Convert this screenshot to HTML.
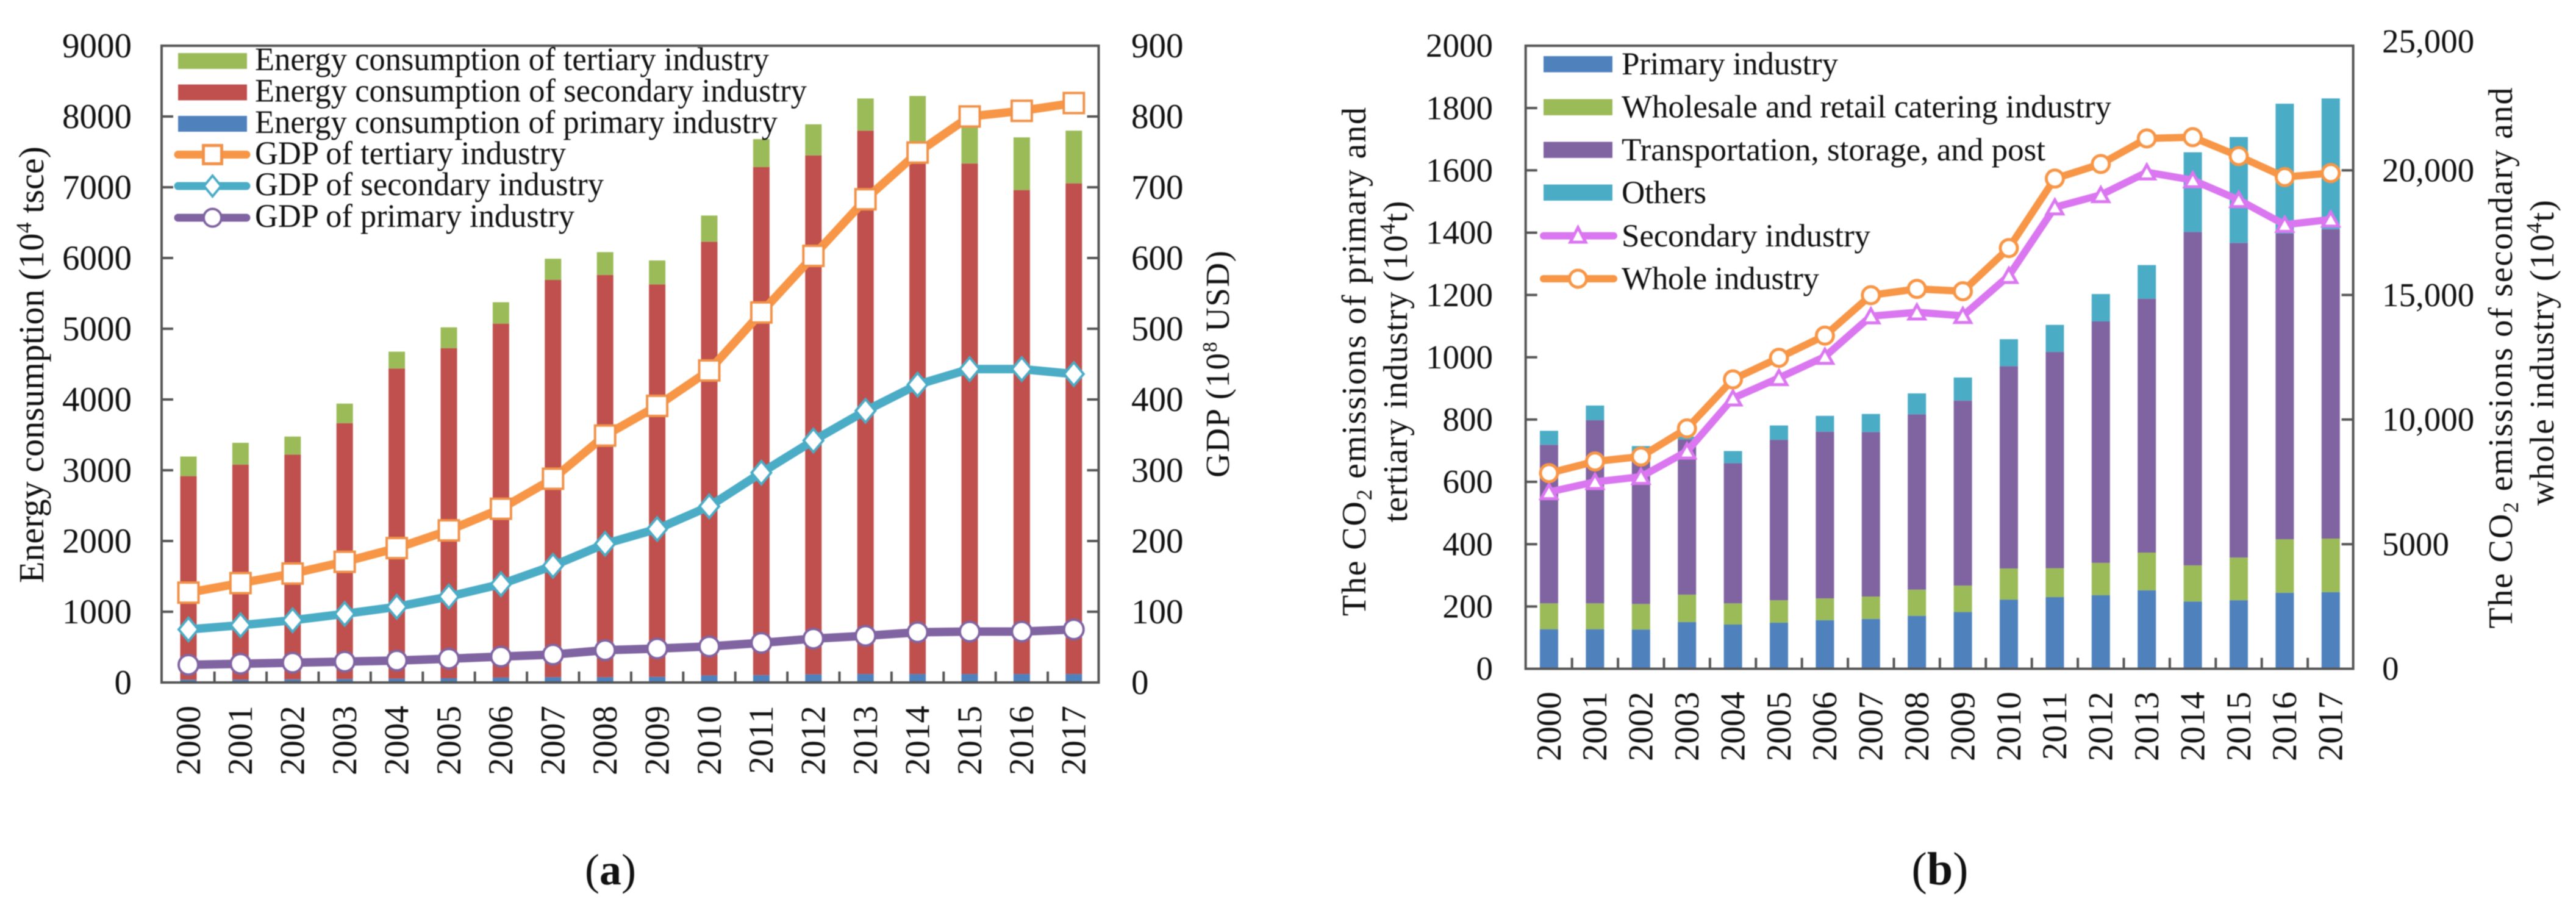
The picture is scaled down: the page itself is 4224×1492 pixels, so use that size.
<!DOCTYPE html>
<html lang="en">
<head>
<meta charset="utf-8">
<title>Energy consumption, GDP and CO2 emissions by industry</title>
<style>
html,body{margin:0;padding:0;background:#fff;}
svg{display:block;font-family:"Liberation Serif",serif;fill:#111;filter:blur(0.7px);}
</style>
</head>
<body>
<svg id="figure" xmlns="http://www.w3.org/2000/svg" width="4224" height="1492" viewBox="0 0 4224 1492">
  <rect x="0" y="0" width="4224" height="1492" fill="#fff"/>

  <g id="chartA"></g>
  <g id="chartB"></g>

  <!-- Chart A titles -->
  <text transform="translate(71,598) rotate(-90)" text-anchor="middle" font-size="58" textLength="716">Energy consumption (10<tspan font-size="36" dy="-20">4</tspan><tspan dy="20"> tsce)</tspan></text>
  <text transform="translate(2015,597) rotate(-90)" text-anchor="middle" font-size="55" textLength="372">GDP (10<tspan font-size="34" dy="-20">8</tspan><tspan dy="20"> USD)</tspan></text>

  <!-- Chart A legend -->
  <g>
    <g>
      <rect x="292" y="87" width="113" height="26" fill="#9BBB59"/>
      <text x="418" y="115" font-size="54" textLength="843" lengthAdjust="spacingAndGlyphs">Energy consumption of tertiary industry</text>
    </g>
    <g>
      <rect x="292" y="138.500" width="113" height="26" fill="#C0504D"/>
      <text x="418" y="166.500" font-size="54" textLength="905" lengthAdjust="spacingAndGlyphs">Energy consumption of secondary industry</text>
    </g>
    <g>
      <rect x="292" y="190" width="113" height="26" fill="#4F81BD"/>
      <text x="418" y="218" font-size="54" textLength="857" lengthAdjust="spacingAndGlyphs">Energy consumption of primary industry</text>
    </g>
    <g>
      <line x1="292" y1="253.500" x2="404" y2="253.500" stroke="#F79646" stroke-width="13" stroke-linecap="round"/>
      <rect x="333.500" y="238.500" width="30" height="30" fill="#fff" stroke="#F0924A" stroke-width="5"/>
      <text x="418" y="269" font-size="54" textLength="510" lengthAdjust="spacingAndGlyphs">GDP of tertiary industry</text>
    </g>
    <g>
      <line x1="292" y1="305" x2="404" y2="305" stroke="#4BACC6" stroke-width="13" stroke-linecap="round"/>
      <polygon points="348.500,288 362.500,305 348.500,322 334.500,305" fill="#fff" stroke="#4BACC6" stroke-width="4"/>
      <text x="418" y="320" font-size="54" textLength="572" lengthAdjust="spacingAndGlyphs">GDP of secondary industry</text>
    </g>
    <g>
      <line x1="292" y1="357" x2="404" y2="357" stroke="#8064A2" stroke-width="13" stroke-linecap="round"/>
      <circle cx="348.500" cy="357" r="14.500" fill="#fff" stroke="#8064A2" stroke-width="4"/>
      <text x="418" y="372" font-size="54" textLength="524" lengthAdjust="spacingAndGlyphs">GDP of primary industry</text>
    </g>
  </g>
  <text x="1001" y="1450" text-anchor="middle" font-size="72">(<tspan font-weight="bold">a</tspan>)</text>

  <!-- Chart B titles -->
  <text transform="translate(2239,593) rotate(-90)" text-anchor="middle" font-size="56" textLength="834">The CO<tspan font-size="36" dy="10">2</tspan><tspan dy="-10"> emissions of  primary and</tspan></text>
  <text transform="translate(2307,593) rotate(-90)" text-anchor="middle" font-size="56" textLength="527">tertiary industry (10<tspan font-size="36" dy="-20">4</tspan><tspan dy="20">t)</tspan></text>
  <text transform="translate(4119,587) rotate(-90)" text-anchor="middle" font-size="56" textLength="887">The CO<tspan font-size="36" dy="10">2</tspan><tspan dy="-10"> emissions of  secondary and</tspan></text>
  <text transform="translate(4187,578.500) rotate(-90)" text-anchor="middle" font-size="56" textLength="501">whole industry (10<tspan font-size="36" dy="-20">4</tspan><tspan dy="20">t)</tspan></text>

  <!-- Chart B legend -->
  <g>
    <g>
      <rect x="2531" y="92" width="113" height="26.500" fill="#4F81BD"/>
      <text x="2659" y="122" font-size="53" textLength="355">Primary industry</text>
    </g>
    <g>
      <rect x="2531" y="162.500" width="113" height="26.500" fill="#9BBB59"/>
      <text x="2659" y="192.500" font-size="53" textLength="803">Wholesale and retail catering industry</text>
    </g>
    <g>
      <rect x="2531" y="232.500" width="113" height="26.500" fill="#8064A2"/>
      <text x="2659" y="263" font-size="53" textLength="695">Transportation, storage, and post</text>
    </g>
    <g>
      <rect x="2531" y="302.500" width="113" height="26.500" fill="#4BACC6"/>
      <text x="2659" y="333" font-size="53" textLength="139">Others</text>
    </g>
    <g>
      <line x1="2531" y1="386.600" x2="2646" y2="386.600" stroke="#DA77F0" stroke-width="12" stroke-linecap="round"/>
      <polygon points="2587.500,373 2600,397 2575,397" fill="#fff" stroke="#DA77F0" stroke-width="5"/>
      <text x="2659" y="404" font-size="53" textLength="408">Secondary industry</text>
    </g>
    <g>
      <line x1="2531" y1="457" x2="2646" y2="457" stroke="#F79646" stroke-width="12" stroke-linecap="round"/>
      <circle cx="2587.500" cy="457" r="14" fill="#fff" stroke="#F79646" stroke-width="5"/>
      <text x="2659" y="474" font-size="53" textLength="324">Whole industry</text>
    </g>
  </g>
  <text x="3181" y="1450" text-anchor="middle" font-size="76">(<tspan font-weight="bold">b</tspan>)</text>
</svg>

<script>
// Shared categories
const years = ['2000','2001','2002','2003','2004','2005','2006','2007','2008','2009','2010','2011','2012','2013','2014','2015','2016','2017'];

// Chart A: energy consumption (10^4 tsce), stacked
const energyPrimary   = [40,40,45,50,55,60,70,75,75,80,100,105,115,120,120,120,120,120];
const energySecondary = [2877,3040,3177,3615,4383,4665,5002,5615,5685,5547,6130,7180,7335,7680,7330,7215,6840,6935];
const energyTertiary  = [277,308,254,277,238,295,303,300,323,338,370,395,440,455,840,665,745,745];
// Chart A: GDP (10^8 USD)
const gdpPrimary   = [25,26.5,28,29.5,31,33.6,36.6,39.5,45.7,48,51,56,62,66,71,72,72,75];
const gdpSecondary = [75,81,88,97,107,121.5,139,165,196,217,249,296.5,342,384,421,443,443,436];
const gdpTertiary  = [127,140.5,154,170.6,190,215,245.6,288,349,391,441,523,603,683,749,800,808,819];
// Chart A: tick labels
const energyTicks = [0,1000,2000,3000,4000,5000,6000,7000,8000,9000];
const gdpTicks    = [0,100,200,300,400,500,600,700,800,900];

// Chart B: CO2 emissions of primary and tertiary industry (10^4 t), stacked
const co2Primary   = [127,127,126,150,142,148,156,160,170,182,222,230,236,252,216,220,244,246];
const co2Wholesale = [83,83,82,88,68,72,70,72,84,85,100,93,104,121,116,137,172,172];
const co2Transport = [509,588,482,498,450,515,535,528,563,594,649,694,775,815,1070,1010,981,993];
const co2Others    = [45,47,25,9,39,46,51,58,67,74,87,87,88,108,256,340,417,420];
// Chart B: CO2 emissions of secondary and whole industry (10^4 t)
const co2Secondary = [7093,7500,7705,8725,10854,11672,12526,14150,14305,14165,15770,18520,19013,19925,19610,18815,17820,18030];
const co2Whole     = [7850,8318,8516,9645,11612,12479,13370,14990,15243,15150,16882,19670,20255,21280,21331,20570,19730,19890];
// Chart B: tick labels
const co2LeftTicks  = [0,200,400,600,800,1000,1200,1400,1600,1800,2000];
const co2RightTicks = [0,5000,10000,15000,20000,25000];
const co2RightLabels = ['0','5000','10,000','15,000','20,000','25,000'];

const NS = 'http://www.w3.org/2000/svg';
const AXIS = '#555555';

function add(parent, tag, attrs, text) {
  const el = document.createElementNS(NS, tag);
  for (const k in attrs) el.setAttribute(k, attrs[k]);
  if (text !== undefined) el.textContent = text;
  parent.appendChild(el);
  return el;
}

function drawFrame(g, o, prefix) {
  const el = add(g, 'rect', {x:o.left, y:o.top, width:o.right-o.left, height:o.bottom-o.top, fill:'none', stroke:AXIS, 'stroke-width':4});
  
  
}

function drawTicks(g, o, prefix) {
  const scaleL = v => o.bottom - v / o.leftMax * (o.bottom - o.top);
  const scaleR = v => o.bottom - v / o.rightMax * (o.bottom - o.top);
  o.leftTicks.forEach(function (v) {
    const y = scaleL(v);
    if (v > 0 && v < o.leftMax) {
      const t = add(g, 'line', {x1:o.left, x2:o.left+19, y1:y, y2:y, stroke:AXIS, 'stroke-width':4});
      
      
    }
    const l = add(g, 'text', {x:o.leftLabelX, y:y + 0.33*o.fs, 'text-anchor':'end', 'font-size':o.fs}, String(v));
    
    
  });
  o.rightTicks.forEach(function (v, i) {
    const y = scaleR(v);
    if (v > 0 && v < o.rightMax) {
      const t = add(g, 'line', {x1:o.right-19, x2:o.right, y1:y, y2:y, stroke:AXIS, 'stroke-width':4});
      
      
    }
    const l = add(g, 'text', {x:o.rightLabelX, y:y + 0.33*o.fs + (v === o.rightMax ? o.topShift : 0), 'text-anchor':'start', 'font-size':o.fs}, o.rightLabels[i]);
    
    
  });
  years.forEach(function (yr, i) {
    const c = o.x0 + i * o.step;
    if (i < years.length - 1) {
      const t = add(g, 'line', {x1:c+o.step/2, x2:c+o.step/2, y1:o.bottom-18, y2:o.bottom, stroke:AXIS, 'stroke-width':4});
      
      
    }
    const lx = c + 0.33 * o.xfs;
    const l = add(g, 'text', {x:lx, y:o.xLabelTop, 'text-anchor':'end', 'font-size':o.xfs, transform:'rotate(-90 ' + lx + ' ' + o.xLabelTop + ')'}, yr);
    
    
  });
}

function drawStack(g, o, prefix, stack) {
  const scale = v => o.bottom - v / o.leftMax * (o.bottom - o.top);
  years.forEach(function (yr, i) {
    let base = 0;
    stack.forEach(function (s) {
      const top = base + s.values[i];
      const r = add(g, 'rect', {x:o.x0 + i*o.step - o.barW/2, y:scale(top), width:o.barW, height:scale(base)-scale(top), fill:s.color});
      
      
      base = top;
    });
  });
}

function marker(g, kind, x, y, color, m) {
  if (kind === 'square') {
    return add(g, 'rect', {x:x-m.size/2, y:y-m.size/2, width:m.size, height:m.size, fill:'#fff', stroke:color, 'stroke-width':m.sw});
  }
  if (kind === 'diamond') {
    return add(g, 'polygon', {points:[x,y-m.hh, x+m.hw,y, x,y+m.hh, x-m.hw,y].join(' '), fill:'#fff', stroke:color, 'stroke-width':m.sw});
  }
  if (kind === 'triangle') {
    return add(g, 'polygon', {points:[x,y-m.up, x+m.hw,y+m.down, x-m.hw,y+m.down].join(' '), fill:'#fff', stroke:color, 'stroke-width':m.sw});
  }
  return add(g, 'circle', {cx:x, cy:y, r:m.r, fill:'#fff', stroke:color, 'stroke-width':m.sw});
}

function drawLine(g, o, prefix, s) {
  const scale = v => o.bottom - v / o.rightMax * (o.bottom - o.top);
  const pts = s.values.map((v, i) => (o.x0 + i*o.step) + ',' + scale(v)).join(' ');
  const line = add(g, 'polyline', {points:pts, fill:'none', stroke:s.color, 'stroke-width':s.width, 'stroke-linejoin':'round'});
  
  
  s.values.forEach(function (v, i) {
    const mk = marker(g, s.kind, o.x0 + i*o.step, scale(v), s.markerColor, s.m);
    
    
  });
}

const gA = document.getElementById('chartA');
const optA = {left:265, right:1801.5, top:75, bottom:1119, x0:309, step:85.4, barW:27,
  leftMax:9000, rightMax:900, leftTicks:energyTicks, rightTicks:gdpTicks, rightLabels:gdpTicks.map(String),
  leftLabelX:216, rightLabelX:1855, fs:57, xfs:57, xLabelTop:1157, topShift:0};
drawStack(gA, optA, 'energy', [
  {name:'primary', values:energyPrimary, color:'#4F81BD'},
  {name:'secondary', values:energySecondary, color:'#C0504D'},
  {name:'tertiary', values:energyTertiary, color:'#9BBB59'}
]);
drawFrame(gA, optA, 'chart-a');
drawTicks(gA, optA, 'chart-a');
drawLine(gA, optA, 'gdp', {name:'primary', values:gdpPrimary, color:'#8064A2', markerColor:'#8064A2', width:14, kind:'circle', m:{r:16, sw:4}});
drawLine(gA, optA, 'gdp', {name:'secondary', values:gdpSecondary, color:'#4BACC6', markerColor:'#4BACC6', width:14, kind:'diamond', m:{hw:16, hh:19, sw:4}});
drawLine(gA, optA, 'gdp', {name:'tertiary', values:gdpTertiary, color:'#F79646', markerColor:'#F0924A', width:14, kind:'square', m:{size:33, sw:4}});

const gB = document.getElementById('chartB');
const optB = {left:2501.7, right:3858.6, top:75, bottom:1096.5, x0:2540, step:75.4, barW:30,
  leftMax:2000, rightMax:25000, leftTicks:co2LeftTicks, rightTicks:co2RightTicks, rightLabels:co2RightLabels,
  leftLabelX:2448, rightLabelX:3906, fs:55, xfs:57, xLabelTop:1134, topShift:-7};
drawStack(gB, optB, 'co2', [
  {name:'primary', values:co2Primary, color:'#4F81BD'},
  {name:'wholesale', values:co2Wholesale, color:'#9BBB59'},
  {name:'transport', values:co2Transport, color:'#8064A2'},
  {name:'others', values:co2Others, color:'#4BACC6'}
]);
drawFrame(gB, optB, 'chart-b');
drawTicks(gB, optB, 'chart-b');
drawLine(gB, optB, 'co2', {name:'secondary', values:co2Secondary, color:'#DA77F0', markerColor:'#DA77F0', width:12, kind:'triangle', m:{up:12, down:11, hw:13, sw:5}});
drawLine(gB, optB, 'co2', {name:'whole', values:co2Whole, color:'#F79646', markerColor:'#F79646', width:12, kind:'circle', m:{r:14, sw:5}});
</script>
</body>
</html>
